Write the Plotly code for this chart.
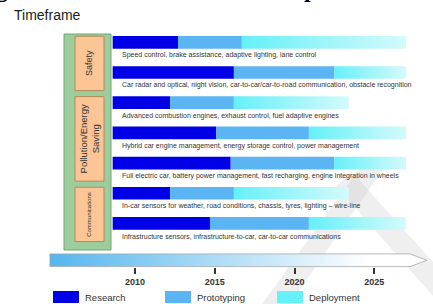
import plotly.graph_objects as go

W, H = 433, 304

# ---------------- data ----------------
topics = [
    "Speed control, brake assistance, adaptive lighting, lane control",
    "Car radar and optical, night vision, car-to-car/car-to-road communication, obstacle recognition",
    "Advanced combustion engines, exhaust control, fuel adaptive engines",
    "Hybrid car engine management, energy storage control, power management",
    "Full electric car, battery power management, fast recharging, engine integration in wheels",
    "In-car sensors for weather, road conditions, chassis, tyres, lighting \u2013 wire-line",
    "Infrastructure sensors, infrastructure-to-car, car-to-car communications",
]
bar_start = 2008.6
research_end = [2012.7, 2016.2, 2012.2, 2015.1, 2016.0, 2012.2, 2014.7]
proto_end = [2016.7, 2022.5, 2016.2, 2020.9, 2022.5, 2016.2, 2020.9]
deploy_end = [2027.0, 2027.0, 2023.4, 2027.0, 2027.0, 2023.4, 2027.0]

groups = ["Safety", "Pollution/Energy<br>Saving", "Communications"]
group_first = [0, 2, 5]
group_last = [1, 4, 6]

tick_years = [2010, 2015, 2020, 2025]
legend_names = ["Research", "Prototyping", "Deployment"]

# ---------------- style ----------------
C_RES = "#0000E6"
C_PRO = "#5BB5F2"
C_DEP = "#66F0F8"
C_DEP_END = "#D4FAFB"
FONT = "Arial, Liberation Sans, sans-serif"
BAR_W = 0.42
X_RANGE = [2001.54, 2028.68]
Y_RANGE = [8.669, -1.401]


def px(p):
    return p / W


def py(p):
    return 1 - p / H


rows = list(range(len(topics)))
fig = go.Figure()

# watermark (decorative, drawn below everything)
shapes = [
    dict(type="path", xref="paper", yref="paper", layer="below",
         path=f"M {px(362)} {py(165)} L {px(386)} {py(165)} L {px(290)} {py(304)} L {px(262)} {py(304)} Z",
         fillcolor="rgba(190,190,190,0.25)", line=dict(width=0)),
    dict(type="path", xref="paper", yref="paper", layer="below",
         path=f"M {px(336)} {py(186)} L {px(352)} {py(172)} L {px(433)} {py(262)} L {px(433)} {py(296)} Z",
         fillcolor="rgba(190,190,190,0.25)", line=dict(width=0)),
]

# research bars
fig.add_trace(go.Bar(
    y=rows, x=[r - bar_start for r in research_end], base=bar_start,
    orientation="h", width=BAR_W, marker=dict(color=C_RES, line=dict(width=0)),
    showlegend=False, hoverinfo="skip"))
# prototyping bars
fig.add_trace(go.Bar(
    y=rows, x=[p - r for p, r in zip(proto_end, research_end)], base=research_end,
    orientation="h", width=BAR_W, marker=dict(color=C_PRO, line=dict(width=0)),
    showlegend=False, hoverinfo="skip"))
# deployment bars with gradient
for i, (p, d) in enumerate(zip(proto_end, deploy_end)):
    fig.add_trace(go.Scatter(
        x=[p, d, d, p, p], y=[i - BAR_W / 2, i - BAR_W / 2, i + BAR_W / 2, i + BAR_W / 2, i - BAR_W / 2],
        mode="lines", line=dict(width=0), fill="toself",
        fillgradient=dict(type="horizontal", colorscale=[[0, C_DEP], [1, C_DEP_END]]),
        showlegend=False, hoverinfo="skip"))

# timeline arrow
ax_l, ax_r, ax_tip = 2004.67, 2027.24, 2028.3
ay_t, ay_b = 7.01, 7.43
fig.add_trace(go.Scatter(
    x=[ax_l, ax_r, ax_tip, ax_r, ax_l, ax_l],
    y=[ay_t, ay_t, (ay_t + ay_b) / 2, ay_b, ay_b, ay_t],
    mode="lines", line=dict(width=0.8, color="#A8A8A8"), fill="toself",
    fillgradient=dict(type="horizontal", colorscale=[[0, "#55B6EE"], [0.85, "#FFFFFF"], [1, "#FFFFFF"]]),
    showlegend=False, hoverinfo="skip"))

annotations = []
# row labels
for i, t in enumerate(topics):
    annotations.append(dict(
        x=bar_start + 0.45, y=i, xref="x", yref="y", yshift=-13,
        text=t, showarrow=False, xanchor="left", yanchor="middle",
        font=dict(family=FONT, size=7, color="#333333")))

# left category panel
shapes.append(dict(type="rect", xref="paper", yref="paper",
                   x0=px(64), x1=px(111), y0=py(250), y1=py(34),
                   fillcolor="#9DCC9D", line=dict(color="#6FA86F", width=1)))
group_font = [9, 9.5, 6]
for g, f, l, fs in zip(groups, group_first, group_last, group_font):
    y0 = f - 0.2
    y1 = l + 0.6
    shapes.append(dict(type="rect", xref="paper", yref="y",
                       x0=px(75), x1=px(104), y0=y0, y1=y1,
                       fillcolor="#FBC596", line=dict(color="#B8885A", width=1)))
    annotations.append(dict(
        x=px(89.5), y=(y0 + y1) / 2, xref="paper", yref="y", text=g,
        showarrow=False, textangle=-90, xanchor="center", yanchor="middle",
        font=dict(family=FONT, size=fs, color="#333333")))

# title fragments
annotations.append(dict(
    x=px(12), y=py(15), xref="paper", yref="paper", text="Timeframe",
    showarrow=False, xanchor="left", yanchor="middle",
    font=dict(family=FONT, size=14, color="#222222")))
annotations.append(dict(
    x=px(-6), y=py(-11), xref="paper", yref="paper",
    text="<b>gure 4: Timeframe and development of technologies in the vehicle</b>",
    showarrow=False, xanchor="left", yanchor="middle",
    font=dict(family="Liberation Serif, Times New Roman, serif", size=24, color="#000000")))

# legend
leg_colors = [C_RES, C_PRO, C_DEP]
for k, (name, col) in enumerate(zip(legend_names, leg_colors)):
    x0 = 53 + k * 112
    shapes.append(dict(type="rect", xref="paper", yref="paper",
                       x0=px(x0), x1=px(x0 + 26), y0=py(303), y1=py(291),
                       fillcolor=col, line=dict(width=0)))
    annotations.append(dict(
        x=px(x0 + 30), y=py(297), xref="paper", yref="paper", text=name,
        showarrow=False, xanchor="left", yanchor="middle",
        font=dict(family=FONT, size=9.5, color="#333333")))

fig.update_layout(
    width=W, height=H, autosize=False,
    margin=dict(l=0, r=0, t=0, b=0),
    paper_bgcolor="white", plot_bgcolor="rgba(0,0,0,0)",
    barmode="overlay", showlegend=False,
    shapes=shapes, annotations=annotations,
    xaxis=dict(range=X_RANGE, anchor="free", position=1 - 267 / H,
               showgrid=False, zeroline=False, showline=False,
               ticks="outside", ticklen=6, tickwidth=2, tickcolor="#333333",
               tickvals=tick_years, ticktext=[str(y) for y in tick_years],
               tickfont=dict(family=FONT, size=9, color="#333333", weight="bold"),
               fixedrange=True),
    yaxis=dict(range=Y_RANGE, visible=False, fixedrange=True),
)

fig.write_html("out.html", config={"displayModeBar": False, "staticPlot": True},
               post_script="document.body.style.margin='0';document.body.style.overflow='hidden';")
